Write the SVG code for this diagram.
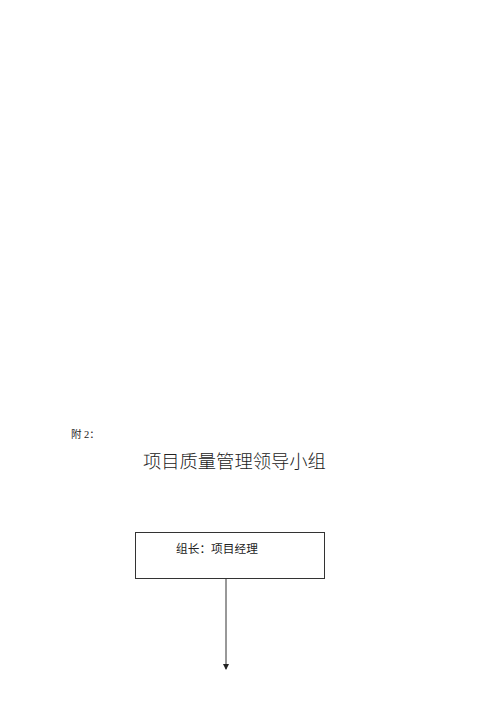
<svg xmlns="http://www.w3.org/2000/svg" width="500" height="707" viewBox="0 0 500 707">
<style>
text{font-family:"Liberation Serif","Noto Sans CJK SC",serif;fill:#222}
.box{fill:#fff;stroke:#333;stroke-width:1}
.conn{stroke:#333;stroke-width:1;fill:none}
</style>
<defs>
<marker id="arr" markerWidth="6" markerHeight="6" refX="5" refY="3" orient="auto" markerUnits="userSpaceOnUse">
<path d="M0,0 L6,3 L0,6 Z" fill="#222"/>
</marker>
</defs>
<rect width="500" height="707" fill="#fff"/>
<text x="71" y="438" font-size="10.5">附 2：</text>
<text x="143" y="468" font-size="18.3" font-weight="300">项目质量管理领导小组</text>
<g id="node-leader">
<rect class="box" x="135.5" y="532.5" width="189" height="46"/>
<text x="176" y="553" font-size="11.7">组长：项目经理</text>
</g>
<g id="connectors">
<line class="conn" x1="226" y1="578.5" x2="226" y2="669" marker-end="url(#arr)"/>
</g>
</svg>
